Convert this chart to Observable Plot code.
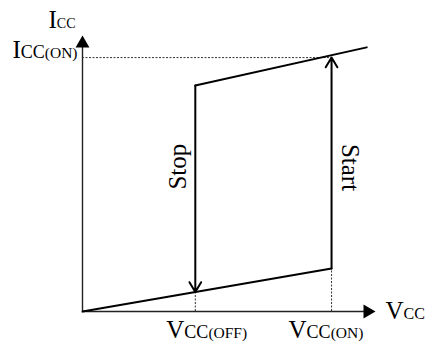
<!DOCTYPE html>
<html><head><meta charset="utf-8">
<script src="https://cdn.jsdelivr.net/npm/d3@7"></script>
<script src="https://cdn.jsdelivr.net/npm/@observablehq/plot@0.6"></script>
<style>body{margin:0;background:#fff}svg{display:block}svg text{font-family:'Liberation Serif','Times New Roman',serif !important}</style>
</head><body><div id="chart"></div>
<script>
// Schematic values (arbitrary units)
const vccTicks = [3.85, 8.5];               // VCC(OFF), VCC(ON)
const vccTickLabels = [["V","CC","(OFF)"], ["V","CC","(ON)"]];
const iccOn = 9.2;                           // ICC(ON)
const iccOnLabel = ["I","CC","(ON)"];
const yAxisLabel = ["I","CC"];
const xAxisLabel = ["V","CC"];
const axisMax = 10;
// Hysteresis branches
const lowerX = [0, 8.5];
const lowerY = [0, 1.56];
const upperX = [3.85, 9.7];
const upperY = [8.19, 9.57];
const stopFrom = 8.19, stopTo = 0.71;        // Stop: VCC(OFF), falling
const startFrom = 1.56, startTo = 9.2;       // Start: VCC(ON), rising

const lower = lowerX.map((x, i) => ({x, y: lowerY[i]}));
const upper = upperX.map((x, i) => ({x, y: upperY[i]}));
const join = p => p.join("");
const partsMap = {};
vccTickLabels.forEach(p => partsMap[join(p)] = {parts: p, sizes: [25, 18, 15.5]});
partsMap[join(iccOnLabel)] = {parts: iccOnLabel, sizes: [25, 18, 15.5]};
partsMap[join(yAxisLabel)] = {parts: yAxisLabel, sizes: [25, 14]};
partsMap[join(xAxisLabel)] = {parts: xAxisLabel, sizes: [25, 16]};

const font = "'Liberation Serif', 'Times New Roman', serif";
const txt = {fontFamily: font, fontSize: 25, fill: "#000"};

const plot = Plot.plot({
  width: 425, height: 345,
  marginTop: 0, marginRight: 0, marginBottom: 0, marginLeft: 0,
  x: {domain: [0, axisMax], range: [82, 375], axis: null},
  y: {domain: [0, axisMax], range: [311, 35], axis: null},
  style: {background: "#fff", fontFamily: font},
  marks: [
    // dashed guides
    Plot.ruleY([iccOn], {x1: 0, x2: vccTicks[1], stroke: "#333", strokeWidth: 1, strokeDasharray: "2,1.5"}),
    Plot.ruleX([0], {x: vccTicks[0], y1: 0, y2: stopTo, stroke: "#333", strokeWidth: 1, strokeDasharray: "2,1.5"}),
    Plot.ruleX([0], {x: vccTicks[1], y1: 0, y2: startFrom, stroke: "#333", strokeWidth: 1, strokeDasharray: "2,1.5"}),
    // axes
    Plot.ruleX([0], {y1: 0, y2: axisMax - 0.3, stroke: "#222", strokeWidth: 1.4}),
    Plot.ruleY([0], {x1: 0, x2: axisMax - 0.25, stroke: "#222", strokeWidth: 1.4}),
    Plot.dot([0], {x: 0, y: axisMax, symbol: "triangle", r: 5.14, fill: "#000", stroke: null, dy: 8}),
    Plot.dot([0], {x: axisMax, y: 0, symbol: "triangle", r: 5.14, fill: "#000", stroke: null, rotate: 90, dx: -8}),
    // hysteresis loop
    Plot.line(lower, {x: "x", y: "y", stroke: "#000", strokeWidth: 2, strokeLinecap: "round"}),
    Plot.line(upper, {x: "x", y: "y", stroke: "#000", strokeWidth: 2, strokeLinecap: "round"}),
    Plot.arrow([0], {x: vccTicks[0], y1: stopFrom, y2: stopTo, stroke: "#000", strokeWidth: 2, headLength: 8.5, headAngle: 62, bend: 0}),
    Plot.arrow([0], {x: vccTicks[1], y1: startFrom, y2: startTo, stroke: "#000", strokeWidth: 2, headLength: 8.5, headAngle: 62, bend: 0}),
    // Stop / Start labels
    Plot.text(["Stop"], {x: vccTicks[0], y: (stopFrom + stopTo) / 2, text: d => d, rotate: -90, dx: -17, dy: -22, textAnchor: "middle", lineAnchor: "middle", ...txt}),
    Plot.text(["Start"], {x: vccTicks[1], y: (startFrom + startTo) / 2, text: d => d, rotate: 90, dx: 18, dy: 4.5, textAnchor: "middle", lineAnchor: "middle", ...txt}),
    // axis labels
    Plot.text([join(yAxisLabel)], {x: 0, y: axisMax, text: d => d, textAnchor: "end", lineAnchor: "bottom", dx: -7, dy: -8, ...txt}),
    Plot.text([join(iccOnLabel)], {x: 0, y: iccOn, text: d => d, textAnchor: "end", lineAnchor: "bottom", dx: -5, dy: 0, ...txt}),
    Plot.text([join(xAxisLabel)], {x: axisMax, y: 0, text: d => d, textAnchor: "start", lineAnchor: "bottom", dx: 10, dy: 7, ...txt}),
    Plot.text([join(vccTickLabels[0])], {x: vccTicks[0], y: 0, text: d => d, textAnchor: "start", lineAnchor: "bottom", dx: -29, dy: 26, ...txt}),
    Plot.text([join(vccTickLabels[1])], {x: vccTicks[1], y: 0, text: d => d, textAnchor: "start", lineAnchor: "bottom", dx: -43, dy: 26, ...txt})
  ]
});

d3.select(plot).selectAll("text").each(function() {
  const entry = partsMap[this.textContent];
  if (!entry) return;
  const t = d3.select(this);
  t.text(null);
  entry.parts.forEach((p, i) => t.append("tspan").attr("font-size", entry.sizes[i]).text(p));
});

document.getElementById("chart").appendChild(plot);
</script>
</body></html>
